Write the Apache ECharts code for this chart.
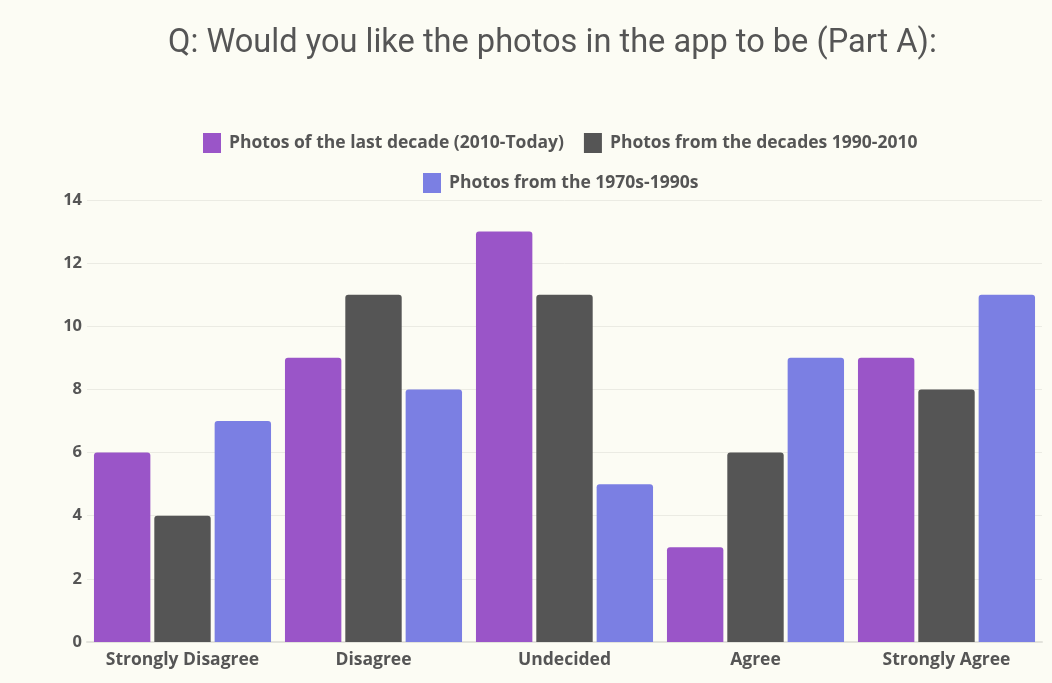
<!DOCTYPE html>
<html>
<head>
<meta charset="utf-8">
<script src="https://cdn.jsdelivr.net/npm/echarts@6/dist/echarts.min.js"></script>
<style>
  html, body { margin: 0; padding: 0; background: #fcfcf4; }
  #chart { width: 1052px; height: 683px; }
</style>
</head>
<body>
<div id="chart"></div>
<script>
// Survey answers, grouped by response
const categories = ['Strongly Disagree', 'Disagree', 'Undecided', 'Agree', 'Strongly Agree'];
const seriesNames = [
  'Photos of the last decade (2010-Today)',
  'Photos from the decades 1990-2010',
  'Photos from the 1970s-1990s'
];
const lastDecade = [6, 9, 13, 3, 9];
const decades1990to2010 = [4, 11, 11, 6, 8];
const seventiesToNineties = [7, 8, 5, 9, 11];
const seriesColors = ['#9a55c8', '#555555', '#7b7fe3'];
const yTicks = { min: 0, max: 14, interval: 2 };

const textColor = '#555555';
const labelFont = '"Open Sans", "Noto Sans", sans-serif';

const chart = echarts.init(document.getElementById('chart'));

const values = [lastDecade, decades1990to2010, seventiesToNineties];

const legendCommon = {
  itemWidth: 18,
  itemHeight: 20,
  itemGap: 20,
  icon: 'rect',
  textStyle: { color: textColor, fontFamily: labelFont, fontWeight: 'bold', fontSize: 17.5, padding: [0, 0, 0, 3] }
};

chart.setOption({
  backgroundColor: '#fcfcf4',
  title: {
    text: 'Q: Would you like the photos in the app to be (Part A):',
    left: 163,
    top: 22,
    textStyle: { color: textColor, fontFamily: 'Roboto, sans-serif', fontWeight: 'normal', fontSize: 32.6 }
  },
  legend: [
    Object.assign({ top: 128, left: 198, data: [seriesNames[0], seriesNames[1]] }, legendCommon),
    Object.assign({ top: 168, left: 418, data: [seriesNames[2]] }, legendCommon)
  ],
  grid: { left: 87, right: 10, top: 200, bottom: 41, containLabel: false },
  xAxis: {
    type: 'category',
    data: categories,
    axisLine: { lineStyle: { color: '#e3e3dc', width: 2 } },
    axisTick: { show: false },
    axisLabel: { color: textColor, fontFamily: labelFont, fontWeight: 'bold', fontSize: 17.5, margin: 9, interval: 0 }
  },
  yAxis: {
    type: 'value',
    min: yTicks.min,
    max: yTicks.max,
    interval: yTicks.interval,
    axisLine: { show: false },
    axisTick: { show: false },
    splitLine: { lineStyle: { color: '#ebebe3', width: 1 } },
    axisLabel: { color: textColor, fontFamily: labelFont, fontWeight: 'bold', fontSize: 16.5, margin: 5 }
  },
  series: seriesNames.map((name, i) => ({
    name,
    type: 'bar',
    data: values[i],
    barGap: '7%',
    barCategoryGap: '7.3%',
    itemStyle: { color: seriesColors[i], borderRadius: [3, 3, 0, 0] }
  }))
});
</script>
</body>
</html>
